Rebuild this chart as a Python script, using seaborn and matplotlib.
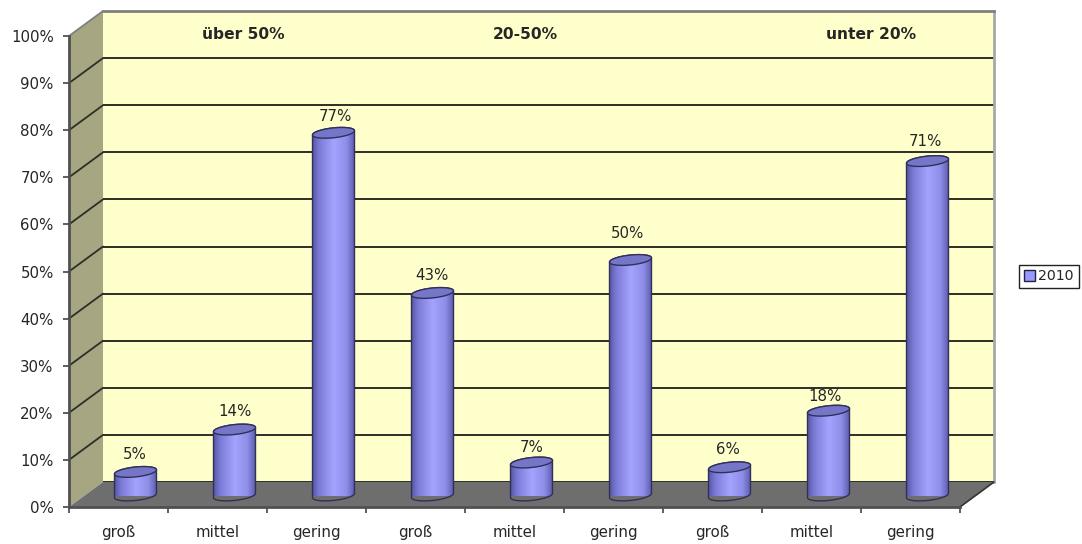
import numpy as np
import matplotlib
matplotlib.use("Agg")
import matplotlib.pyplot as plt
from matplotlib.colors import LinearSegmentedColormap
from matplotlib.patches import PathPatch, Polygon
from matplotlib.path import Path
import seaborn as sns

categories = ["groß", "mittel", "gering", "groß", "mittel", "gering", "groß", "mittel", "gering"]
values = [5, 14, 77, 43, 7, 50, 6, 18, 71]
groups = ["über 50%", "20-50%", "unter 20%"]
group_x = [0.914, 3.77, 7.26]
yticks = list(range(0, 101, 10))
series_name = "2010"
# small nudges of the value labels in pixels
label_dx = [-1, 0, 2, 0, 0, -3, -2, -4, -2]
label_dy = [1, 2, 0, 1, -1, 10, 1, -2, 3]

W, H = 1082, 544
# depth of the fake 3d box in pixels
DX, DY = 34, 25


def box(left, top, right, bottom):
    return [left / W, 1 - bottom / H, (right - left) / W, (bottom - top) / H]


sns.set_style("white")
plt.rcParams["font.family"] = ["DejaVu Sans"]
plt.rcParams["font.size"] = 10.8
text_col = "#262626"

fig = plt.figure(figsize=(W / 100, H / 100), dpi=100)

# back wall
back = fig.add_axes(box(69 + DX, 36 - DY, 960 + DX, 507 - DY), zorder=0)
back.set_facecolor("#ffffcc")
back.set_xlim(-0.5, 8.5)
back.set_ylim(0, 100)
back.set_xticks([])
back.set_yticks(yticks)
back.tick_params(left=False, labelleft=False)
back.grid(axis="y", color="#2e2e26", lw=1.4)
for s in ["left", "bottom"]:
    back.spines[s].set_visible(False)
back.spines["top"].set_color("#808080")
back.spines["top"].set_linewidth(2)
back.spines["right"].set_color("#a8a8a8")
back.spines["right"].set_linewidth(2)
for g, gx in zip(groups, group_x):
    back.text(gx, 95.1, g, ha="center", va="center", fontweight="bold", color=text_col, fontsize=11.2)

# front plane: axis, ticks, left wall and floor
ax = fig.add_axes(box(69, 36, 960, 507), zorder=1)
ax.patch.set_alpha(0)
ax.set_xlim(-0.5, 8.5)
ax.set_ylim(0, 100)
dx = DX / (891 / 9)
dy = DY / (471 / 100)
ax.add_patch(Polygon([(-0.5, 0), (-0.5, 100), (-0.5 + dx, 100 + dy), (-0.5 + dx, dy)],
                     closed=True, fc="#a6a682", ec="none", clip_on=False, zorder=1))
ax.add_patch(Polygon([(-0.5, 0), (8.5, 0), (8.5 + dx, dy), (-0.5 + dx, dy)],
                     closed=True, fc="#6e6e6e", ec="none", clip_on=False, zorder=1))
for v in yticks[1:]:
    col = "#808080" if v == 100 else "#2e2e26"
    ax.plot([-0.5, -0.5 + dx], [v, v + dy], color=col, lw=1.3, clip_on=False, zorder=2)
ax.plot([8.5, 8.5 + dx], [0, dy], color="#333333", lw=1.2, clip_on=False, zorder=2)

ax.set_xticks(range(len(categories)))
ax.set_xticklabels(categories, color=text_col)
ax.set_xticks(np.arange(-0.5, 9, 1), minor=True)
ax.tick_params(axis="x", which="major", length=0, pad=13)
ax.tick_params(axis="x", which="minor", length=4, width=1.2, color="#444444", bottom=True)
ax.set_yticks(yticks)
ax.set_yticklabels([f"{v}%" for v in yticks], color=text_col)
ax.tick_params(axis="y", length=4, width=1.2, color="#444444", pad=7, left=True)
for s in ["top", "right"]:
    ax.spines[s].set_visible(False)
for s in ["left", "bottom"]:
    ax.spines[s].set_color("#505050")
    ax.spines[s].set_linewidth(2)
    ax.spines[s].set_zorder(3)

# bars stand in the middle of the depth
bar_ax = fig.add_axes(box(69 + DX / 2, 36 - 11.5, 960 + DX / 2, 507 - 11.5), zorder=2)
bar_ax.patch.set_alpha(0)
sns.barplot(x=np.arange(len(values)), y=values, color="#9999ff", saturation=1, width=0.424,
            edgecolor="#333366", linewidth=0, label=series_name, ax=bar_ax)
bar_ax.set_xlim(-0.5, 8.5)
bar_ax.set_ylim(0, 100)

cmap = LinearSegmentedColormap.from_list(
    "cyl", [(0, "#5a5aa8"), (0.15, "#7c7cd8"), (0.5, "#a4a4ff"), (0.8, "#8e8ee8"), (1, "#5c5cac")])
grad = np.linspace(0, 1, 128).reshape(1, -1)
t = np.linspace(0, 2 * np.pi, 73)
b = 1.05  # half height of the ellipse
k = 0.45  # tilt, the right side sits higher

for rect in bar_ax.containers[0]:
    x0 = rect.get_x()
    w = rect.get_width()
    top = rect.get_height()
    a = w / 2
    cx = x0 + a

    low = np.linspace(np.pi, 2 * np.pi, 37)
    up = np.linspace(0, np.pi, 37)
    bx = cx + a * np.cos(low)
    by = b * np.sin(low) + k * np.cos(low)
    tx = cx + a * np.cos(up)
    ty = top + b * np.sin(up) + k * np.cos(up)
    outline = np.vstack([np.column_stack([bx, by]), np.column_stack([tx, ty]), [[bx[0], by[0]]]])
    body = PathPatch(Path(outline), fc="none", ec="#30305a", lw=1.0, clip_on=False, zorder=4,
                     transform=bar_ax.transData)
    bar_ax.add_patch(body)

    im = bar_ax.imshow(grad, extent=(x0, x0 + w, -2, top + 2), aspect="auto", cmap=cmap, zorder=3)
    im.set_clip_path(body)
    rect.set_clip_path(body)

    ex = cx + a * np.cos(t)
    ey = top + b * np.sin(t) + k * np.cos(t)
    bar_ax.fill(ex, ey, fc="#7676c8", ec="#30305a", lw=1.0, clip_on=False, zorder=5)

bar_ax.set_xlim(-0.5, 8.5)
bar_ax.set_ylim(0, 100)
labels = bar_ax.bar_label(bar_ax.containers[0], fmt="%d%%", padding=6.5, color=text_col, zorder=6)
for lab, ox, oy in zip(labels, label_dx, label_dy):
    lab.xyann = (ox * 0.72, 6.5 + oy * 0.72)
bar_ax.axis("off")

leg = bar_ax.legend(loc="center left", bbox_to_anchor=(1019 / W, 1 - 276.5 / H),
                    bbox_transform=fig.transFigure, fancybox=False, framealpha=1,
                    edgecolor="#222222", handlelength=0.75, handleheight=0.75,
                    handletextpad=0.25, borderpad=0.35, borderaxespad=0, fontsize=10.2)
leg.get_frame().set_linewidth(1)
for h in leg.legend_handles:
    h.set_edgecolor("#222244")
    h.set_linewidth(1)
    h.set_clip_path(None)
for tx in leg.get_texts():
    tx.set_color(text_col)

fig.savefig("out.png", dpi=100)
